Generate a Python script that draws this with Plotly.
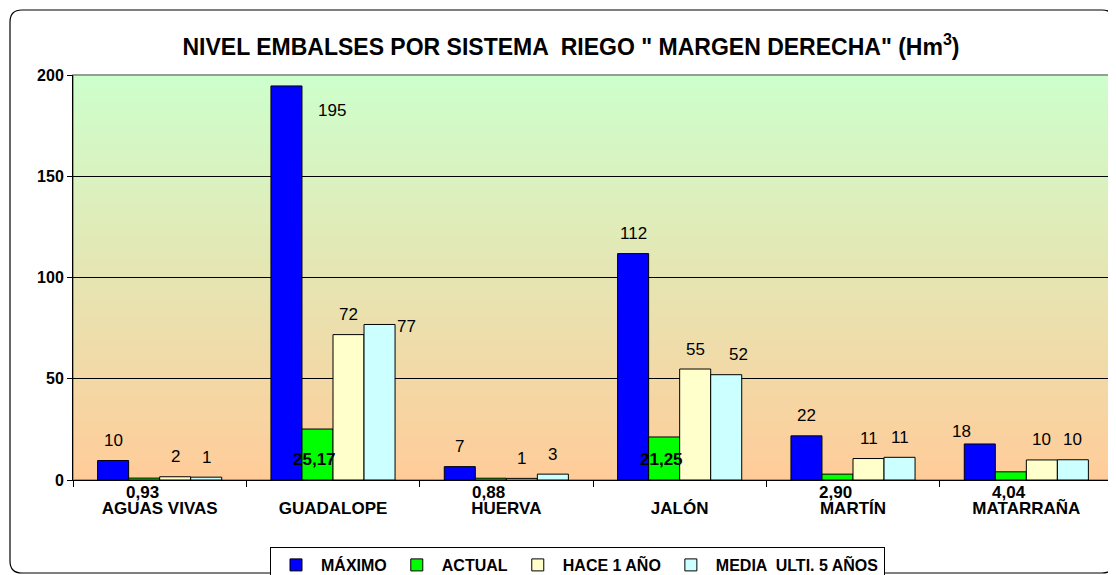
import plotly.graph_objects as go

categories = ["AGUAS VIVAS", "GUADALOPE", "HUERVA", "JALÓN", "MARTÍN", "MATARRAÑA"]
maximo = [9.6, 194.6, 6.6, 111.8, 21.8, 17.8]
actual = [0.93, 25.17, 0.88, 21.25, 2.90, 4.04]
hace_1_ano = [1.6, 71.8, 0.8, 54.8, 10.6, 9.9]
media_5_anos = [1.4, 76.8, 2.9, 52.0, 11.2, 10.0]
series_names = ["MÁXIMO", "ACTUAL", "HACE 1 AÑO", "MEDIA  ULTI. 5 AÑOS"]
y_ticks = [0, 50, 100, 150, 200]

series_values = [maximo, actual, hace_1_ano, media_5_anos]
colors = ["#0000FF", "#00FF00", "#FFFFCC", "#CCFFFF"]

# page body has an 8px margin: figure origin sits at (8, 8) in the screenshot
OFF = 8
W, H = 1116 - OFF, 575 - OFF
L, T = 73 - OFF, 75 - OFF
R = W - (1113 - OFF)
B = H - (480 - OFF)
PW, PH = W - L - R, H - T - B
FONT = "Arial, Liberation Sans, sans-serif"

fig = go.Figure()
for name, vals, col in zip(series_names, series_values, colors):
    fig.add_trace(go.Bar(x=categories, y=vals, name=name,
                         marker=dict(color=col, line=dict(color="black", width=1)),
                         hoverinfo="x+y+name"))

# background gradient (top green -> bottom peach)
top = (204, 255, 204)
bot = (255, 204, 153)
n = 90
for i in range(n):
    t = (i + 0.5) / n
    c = tuple(round(bot[k] + (top[k] - bot[k]) * t) for k in range(3))
    fig.add_shape(type="rect", xref="paper", yref="paper",
                  x0=0, x1=1, y0=i / n, y1=(i + 1) / n + 0.002,
                  fillcolor=f"rgb{c}", line=dict(width=0), layer="below")
# plot area border (gray)
fig.add_shape(type="rect", xref="paper", yref="paper", x0=0, x1=1, y0=0, y1=1,
              line=dict(color="#808080", width=1.5), layer="between")


# outer rounded border, given in screenshot pixels -> paper coords
def px(xp):
    return (xp - OFF - L) / PW


def py(yp):
    return (H - B - (yp - OFF)) / PH


x0, x1, y0, y1, r = 10, 1114, 10, 573, 12
path = (f"M {px(x0 + r)},{py(y0)} L {px(x1 - r)},{py(y0)} Q {px(x1)},{py(y0)} {px(x1)},{py(y0 + r)} "
        f"L {px(x1)},{py(y1 - r)} Q {px(x1)},{py(y1)} {px(x1 - r)},{py(y1)} "
        f"L {px(x0 + r)},{py(y1)} Q {px(x0)},{py(y1)} {px(x0)},{py(y1 - r)} "
        f"L {px(x0)},{py(y0 + r)} Q {px(x0)},{py(y0)} {px(x0 + r)},{py(y0)} Z")
fig.add_shape(type="path", xref="paper", yref="paper", path=path,
              line=dict(color="black", width=1.2), layer="above")

# data labels
bar_w = PW / len(categories) * (1 - 0.284) / 4
nudges = {  # (series index, category index): (xshift, yshift) overrides
    (0, 1): (46, -25),
    (3, 1): (27, -2),
    (0, 5): (-18, 12),
    (3, 3): (12, 20),
}
for si, vals in enumerate(series_values):
    off = (si - 1.5) * bar_w
    for ci, v in enumerate(vals):
        if si == 1:
            txt = f"{v:.2f}".replace(".", ",")
            if v > 10:
                ann_y, dx, dy = 0, -3, 21
            else:
                ann_y, dx, dy = 0, -2, -12
            fnt = dict(family=FONT, size=17, color="black", weight="bold")
        else:
            txt = f"{v:.0f}"
            ann_y, dx, dy = v, 0, 20
            fnt = dict(family=FONT, size=17, color="black")
        if (si, ci) in nudges:
            dx, dy = nudges[(si, ci)]
        fig.add_annotation(x=categories[ci], y=ann_y, text=txt, showarrow=False,
                           xshift=off + dx, yshift=dy, yanchor="middle",
                           font=fnt)

fig.update_layout(
    width=W, height=H,
    margin=dict(l=L, r=R, t=T, b=B, autoexpand=False),
    paper_bgcolor="white", plot_bgcolor="white",
    barmode="group", bargap=0.284, bargroupgap=0,
    font=dict(family=FONT, color="black"),
    title=dict(text="NIVEL EMBALSES POR SISTEMA  RIEGO \" MARGEN DERECHA\" (Hm<sup>3</sup>)",
               x=(571 - OFF) / W, xanchor="center", xref="container",
               y=1 - (47 - OFF) / H, yanchor="middle", yref="container",
               font=dict(family=FONT, size=23, color="black", weight="bold")),
    xaxis=dict(showline=True, linecolor="black", linewidth=1,
               ticks="outside", tickson="boundaries", ticklen=6, tickcolor="black",
               tickfont=dict(family=FONT, size=17, weight="bold"),
               ticklabelstandoff=13,
               showgrid=False),
    yaxis=dict(range=[0, 200], tickvals=y_ticks, showline=True, linecolor="black", linewidth=1,
               ticks="outside", ticklen=5, tickcolor="black",
               tickfont=dict(family=FONT, size=16, weight="bold"),
               showgrid=True, gridcolor="black", gridwidth=1, zeroline=False),
    legend=dict(orientation="h", x=(270 - OFF - L) / PW, xanchor="left",
                y=(H - B - (547 - OFF)) / PH, yanchor="top",
                bordercolor="black", borderwidth=1, bgcolor="white",
                font=dict(family=FONT, size=16, weight="bold"),
                itemwidth=40, traceorder="normal"),
    showlegend=True,
)

fig.write_html("out.html")
